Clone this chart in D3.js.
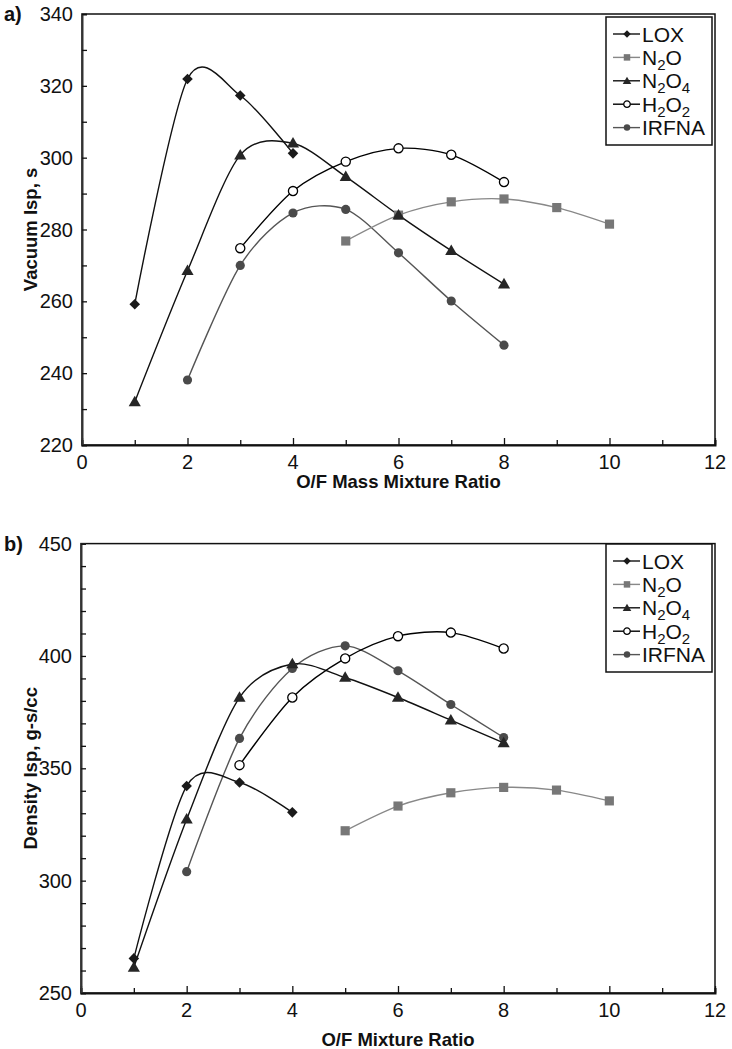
<!DOCTYPE html>
<html>
<head>
<meta charset="utf-8">
<script src="https://cdn.jsdelivr.net/npm/d3@7"></script>
<style>
  body { margin: 0; background: #fff; }
  text { font-family: "Liberation Sans", Arial, sans-serif; }
  .tickLabel { font-size: 20px; fill: #111; }
  .axisTitle { font-size: 18.5px; font-weight: bold; fill: #111; }
  .panelLabel { font-size: 20px; font-weight: bold; fill: #111; }
  .keyLabel { font-size: 21px; fill: #111; }
</style>
</head>
<body>
<script>
// O/F ratios for each propellant
var loxOF   = [1, 2, 3, 4];
var n2oOF   = [5, 6, 7, 8, 9, 10];
var n2o4OF  = [1, 2, 3, 4, 5, 6, 7, 8];
var h2o2OF  = [3, 4, 5, 6, 7, 8];
var irfnaOF = [2, 3, 4, 5, 6, 7, 8];

// a) vacuum Isp, s
var loxVac   = [259.2, 321.9, 317.3, 301.2];
var n2oVac   = [276.8, 284.0, 287.7, 288.5, 286.1, 281.5];
var n2o4Vac  = [232.0, 268.5, 300.7, 304.0, 294.7, 284.0, 274.1, 264.8];
var h2o2Vac  = [274.8, 290.7, 298.9, 302.6, 300.8, 293.2];
var irfnaVac = [238.1, 270.0, 284.6, 285.6, 273.5, 260.1, 247.8];

// b) density Isp, g-s/cc
var loxDen   = [265.4, 342.1, 343.7, 330.4];
var n2oDen   = [322.2, 333.2, 339.1, 341.5, 340.3, 335.5];
var n2o4Den  = [261.4, 327.3, 381.5, 396.4, 390.4, 381.5, 371.4, 361.3];
var h2o2Den  = [351.4, 381.5, 398.9, 408.8, 410.4, 403.3];
var irfnaDen = [304.0, 363.3, 394.4, 404.5, 393.4, 378.4, 363.7];

var xTicks = [0, 2, 4, 6, 8, 10, 12];
var vacTicks = [220, 240, 260, 280, 300, 320, 340];
var denTicks = [250, 300, 350, 400, 450];

// legend names, odd parts are subscripts
var names = [["LOX"], ["N", "2", "O"], ["N", "2", "O", "4"], ["H", "2", "O", "2"], ["IRFNA"]];

var styles = [
  {sym: "diamond",  fill: "#1a1a1a", stroke: "none", line: "#111"},
  {sym: "square",   fill: "#777",    stroke: "none", line: "#888"},
  {sym: "triangle", fill: "#262626", stroke: "none", line: "#111"},
  {sym: "circleO",  fill: "#fff",    stroke: "#000", line: "#000"},
  {sym: "circle",   fill: "#4a4a4a", stroke: "none", line: "#555"}
];

var svg = d3.select("body").append("svg")
  .attr("width", 732)
  .attr("height", 1049);

function symbolPath(sym, k) {
  if (sym == "diamond") return d3.symbol(d3.symbolSquare, 56 * k)();
  if (sym == "square") return d3.symbol(d3.symbolSquare, 84 * k)();
  if (sym == "triangle") return d3.symbol(d3.symbolTriangle, 64 * k)();
  return d3.symbol(d3.symbolCircle, 66 * k)();
}

function drawMarker(g, sym, st, x, y, k) {
  var p = g.append("path")
    .attr("d", symbolPath(sym, k))
    .attr("fill", st.fill)
    .attr("stroke", st.stroke)
    .attr("stroke-width", 1.3);
  if (sym == "diamond") p.attr("transform", "translate(" + x + "," + y + ") rotate(45)");
  else if (sym == "triangle") p.attr("transform", "translate(" + x + "," + (y + 0.8) + ")");
  else p.attr("transform", "translate(" + x + "," + y + ")");
}

function drawChart(opt) {
  var x = d3.scaleLinear().domain([0, 12]).range([opt.left, opt.right]);
  var y = d3.scaleLinear().domain(opt.yDomain).range([opt.bottom, opt.top]);
  var g = svg.append("g");

  // frame
  g.append("rect")
    .attr("x", opt.left).attr("y", opt.top)
    .attr("width", opt.right - opt.left).attr("height", opt.bottom - opt.top)
    .attr("fill", "none").attr("stroke", "#111").attr("stroke-width", 1.5);

  // x axis (ticks inside)
  var xAx = g.append("g")
    .attr("transform", "translate(0," + opt.bottom + ")")
    .call(d3.axisBottom(x).tickValues(d3.range(0, 13, 1)).tickSize(-5).tickFormat(""));
  xAx.select(".domain").attr("stroke", "#111").attr("stroke-width", 2);
  xAx.selectAll(".tick line").attr("stroke", "#111").attr("stroke-width", 1.3)
    .attr("y2", function (d) { return d % 2 == 0 ? -7 : -5; });
  g.selectAll(".xlab").data(xTicks).enter().append("text")
    .attr("class", "tickLabel")
    .attr("x", function (d) { return x(d); })
    .attr("y", opt.bottom + 24)
    .attr("text-anchor", "middle")
    .text(function (d) { return d; });

  // y axis
  var yAx = g.append("g")
    .attr("transform", "translate(" + opt.left + ",0)")
    .call(d3.axisLeft(y).tickValues(d3.range(opt.yDomain[0], opt.yDomain[1] + 1, 10)).tickSize(-5).tickFormat(""));
  yAx.select(".domain").attr("stroke", "#333").attr("stroke-width", 2);
  yAx.selectAll(".tick line").attr("stroke", "#111").attr("stroke-width", 1.3);
  g.selectAll(".ylab").data(opt.yTicks).enter().append("text")
    .attr("class", "tickLabel")
    .attr("x", opt.left - 9)
    .attr("y", function (d) { return y(d) + 7; })
    .attr("text-anchor", "end")
    .text(function (d) { return d; });

  // titles
  g.append("text")
    .attr("class", "axisTitle")
    .attr("x", (opt.left + opt.right) / 2)
    .attr("y", opt.xTitleY)
    .attr("text-anchor", "middle")
    .text(opt.xTitle);
  g.append("text")
    .attr("class", "axisTitle")
    .attr("transform", "translate(37," + (opt.top + opt.bottom) / 2 + ") rotate(-90)")
    .attr("text-anchor", "middle")
    .text(opt.yTitle);
  g.append("text")
    .attr("class", "panelLabel")
    .attr("x", 4)
    .attr("y", opt.top + 7)
    .text(opt.panel);

  // smoothed lines and markers
  var line = d3.line()
    .x(function (d) { return x(d[0]); })
    .y(function (d) { return y(d[1]); })
    .curve(d3.curveCardinal.tension(0.12));

  var order = [4, 1, 2, 0, 3];
  order.forEach(function (s) {
    var pts = opt.xs[s].map(function (v, i) { return [v, opt.ys[s][i]]; });
    g.append("path")
      .attr("d", line(pts))
      .attr("fill", "none")
      .attr("stroke", styles[s].line)
      .attr("stroke-width", 1.4);
  });
  order.forEach(function (s) {
    opt.xs[s].forEach(function (v, i) {
      drawMarker(g, styles[s].sym, styles[s], x(v), y(opt.ys[s][i]), 1);
    });
  });

  // legend
  var lg = g.append("g");
  lg.append("rect")
    .attr("x", opt.legX).attr("y", opt.legY)
    .attr("width", 106).attr("height", 128)
    .attr("fill", "#fff").attr("stroke", "#111").attr("stroke-width", 1.5);
  names.forEach(function (nm, i) {
    var ry = opt.legY + 17 + i * 23.4;
    lg.append("line")
      .attr("x1", opt.legX + 7).attr("x2", opt.legX + 34)
      .attr("y1", ry).attr("y2", ry)
      .attr("stroke", styles[i].line).attr("stroke-width", 1.4);
    drawMarker(lg, styles[i].sym, styles[i], opt.legX + 21, ry, 0.5);
    var t = lg.append("text")
      .attr("class", "keyLabel")
      .attr("x", opt.legX + 36)
      .attr("y", ry + 7.5);
    nm.forEach(function (part, j) {
      var sp = t.append("tspan").text(part);
      if (j % 2 == 1) sp.attr("font-size", "15px").attr("dy", 5);
      else if (j > 0) sp.attr("dy", -5);
    });
  });
}

drawChart({
  left: 82, right: 715, top: 14, bottom: 445,
  yDomain: [220, 340], yTicks: vacTicks,
  xTitle: "O/F Mass Mixture Ratio", xTitleY: 488,
  yTitle: "Vacuum Isp, s", panel: "a)",
  xs: [loxOF, n2oOF, n2o4OF, h2o2OF, irfnaOF],
  ys: [loxVac, n2oVac, n2o4Vac, h2o2Vac, irfnaVac],
  legX: 606, legY: 17
});

drawChart({
  left: 81, right: 715, top: 543.6, bottom: 993,
  yDomain: [250, 450], yTicks: denTicks,
  xTitle: "O/F Mixture Ratio", xTitleY: 1046,
  yTitle: "Density Isp, g-s/cc", panel: "b)",
  xs: [loxOF, n2oOF, n2o4OF, h2o2OF, irfnaOF],
  ys: [loxDen, n2oDen, n2o4Den, h2o2Den, irfnaDen],
  legX: 606, legY: 544
});
</script>
</body>
</html>
